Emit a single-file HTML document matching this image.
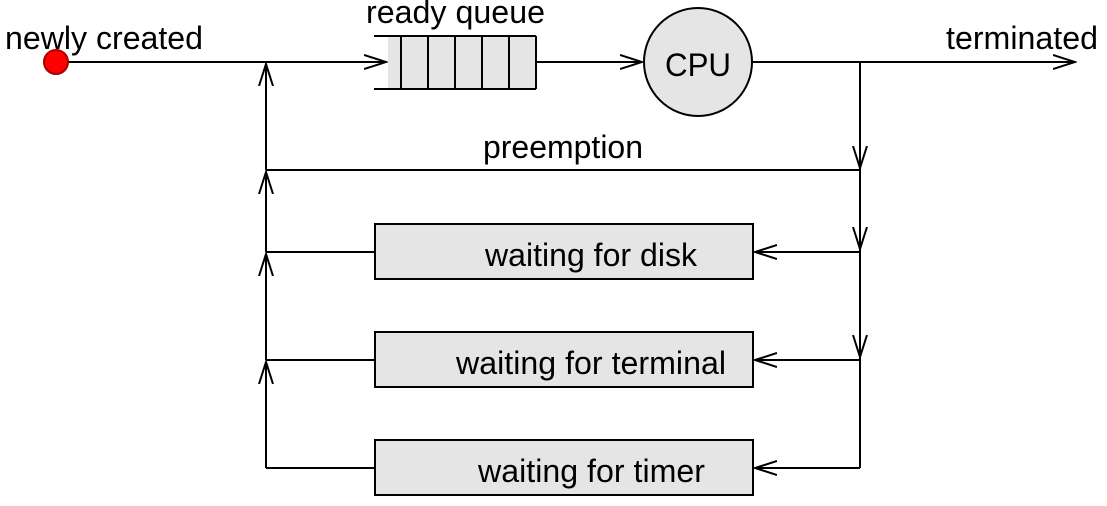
<!DOCTYPE html>
<html><head><meta charset="utf-8"><style>html,body{margin:0;padding:0;background:#fff}</style></head>
<body>
<svg width="1107" height="501" viewBox="0 0 1107 501" xmlns="http://www.w3.org/2000/svg" font-family="Liberation Sans, sans-serif" font-size="32" fill="none" stroke="#000" stroke-width="2">
<defs>
<marker id="a" markerWidth="24" markerHeight="16" refX="22" refY="8" orient="auto" markerUnits="userSpaceOnUse">
<path d="M0,1 L22,8 L0,15" fill="none" stroke="#000" stroke-width="2"/>
</marker>
</defs>
<line x1="56" y1="62" x2="386" y2="62" marker-end="url(#a)"/>
<circle cx="56" cy="62" r="12" fill="#f00" stroke="#a00" stroke-width="2"/>
<rect x="388" y="36" width="148" height="53" fill="#e5e5e5" stroke="none"/>
<line x1="374" y1="36" x2="536" y2="36"/>
<line x1="374" y1="89" x2="536" y2="89"/>
<g>
<line x1="401" y1="36" x2="401" y2="89"/><line x1="428" y1="36" x2="428" y2="89"/>
<line x1="455" y1="36" x2="455" y2="89"/><line x1="482" y1="36" x2="482" y2="89"/>
<line x1="509" y1="36" x2="509" y2="89"/><line x1="536" y1="36" x2="536" y2="89"/>
</g>
<line x1="536" y1="62" x2="642" y2="62" marker-end="url(#a)"/>
<circle cx="698" cy="62" r="54" fill="#e5e5e5"/>
<line x1="752" y1="62" x2="1075" y2="62" marker-end="url(#a)"/>
<line x1="860" y1="62" x2="860" y2="168" marker-end="url(#a)"/>
<line x1="860" y1="168" x2="860" y2="249" marker-end="url(#a)"/>
<line x1="860" y1="249" x2="860" y2="357" marker-end="url(#a)"/>
<line x1="860" y1="357" x2="860" y2="468"/>
<line x1="860" y1="170" x2="266" y2="170"/>
<rect x="375" y="224" width="378" height="55" fill="#e5e5e5"/>
<rect x="375" y="332" width="378" height="55" fill="#e5e5e5"/>
<rect x="375" y="440" width="378" height="55" fill="#e5e5e5"/>
<line x1="860" y1="252" x2="755" y2="252" marker-end="url(#a)"/>
<line x1="860" y1="360" x2="755" y2="360" marker-end="url(#a)"/>
<line x1="860" y1="468" x2="755" y2="468" marker-end="url(#a)"/>
<line x1="375" y1="252" x2="266" y2="252"/>
<line x1="375" y1="360" x2="266" y2="360"/>
<line x1="375" y1="468" x2="266" y2="468"/>
<line x1="266" y1="468" x2="266" y2="362" marker-end="url(#a)"/>
<line x1="266" y1="360" x2="266" y2="254" marker-end="url(#a)"/>
<line x1="266" y1="252" x2="266" y2="172" marker-end="url(#a)"/>
<line x1="266" y1="170" x2="266" y2="64" marker-end="url(#a)"/>
<g fill="#000" stroke="none">
<text x="5" y="49" textLength="198" lengthAdjust="spacingAndGlyphs">newly created</text>
<text x="366" y="23" textLength="179" lengthAdjust="spacingAndGlyphs">ready queue</text>
<text x="946" y="49" textLength="152" lengthAdjust="spacingAndGlyphs">terminated</text>
<text x="665" y="76" textLength="66" lengthAdjust="spacingAndGlyphs">CPU</text>
<text x="483" y="158" textLength="160" lengthAdjust="spacingAndGlyphs">preemption</text>
<text x="485" y="266" textLength="212" lengthAdjust="spacingAndGlyphs">waiting for disk</text>
<text x="456" y="374" textLength="270" lengthAdjust="spacingAndGlyphs">waiting for terminal</text>
<text x="478" y="482" textLength="227" lengthAdjust="spacingAndGlyphs">waiting for timer</text>
</g>
</svg>
</body></html>
